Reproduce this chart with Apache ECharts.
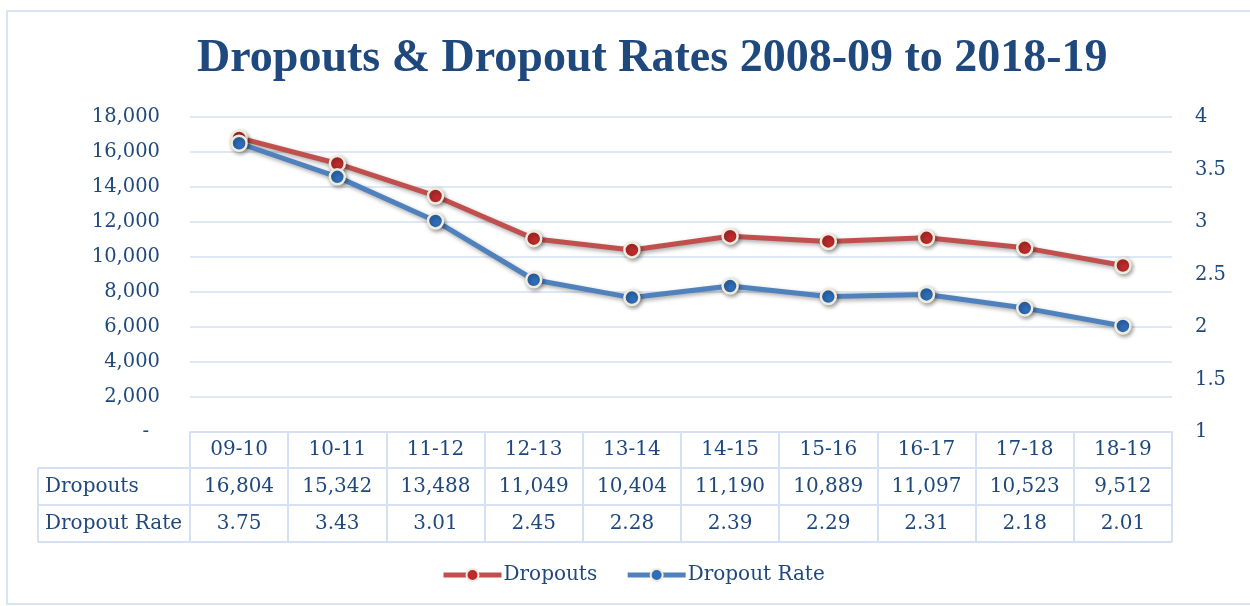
<!DOCTYPE html>
<html>
<head>
<meta charset="utf-8">
<script src="https://cdn.jsdelivr.net/npm/echarts@6/dist/echarts.min.js"></script>
<style>
  html, body { margin: 0; padding: 0; background: #fff; }
  #chart { width: 1250px; height: 606px; }
</style>
</head>
<body>
<div id="chart"></div>
<script>
// School years and the two measured series
const years = ['09-10', '10-11', '11-12', '12-13', '13-14', '14-15', '15-16', '16-17', '17-18', '18-19'];
const dropouts = [16804, 15342, 13488, 11049, 10404, 11190, 10889, 11097, 10523, 9512];
const dropoutRate = [3.75, 3.43, 3.01, 2.45, 2.28, 2.39, 2.29, 2.31, 2.18, 2.01];
const rowLabels = ['Dropouts', 'Dropout Rate'];

const TEXT = '#1F497D';
const RULE = '#D5E1F2';
const FONT = 'DejaVu Serif';

// plot frame and data-table geometry (px)
const G = { left: 190, right: 78, top: 117, bottom: 174 };
const tableLeft = 38;
const rowH = 37;
const axisY = 606 - G.bottom;           // bottom of plot = top of table
const headerBottom = axisY + 36;

const chart = echarts.init(document.getElementById('chart'), null, { renderer: 'canvas' });

const markerBorder = '#EFEBDD';
function lineSeries(name, data, lineColor, dotColor, yIndex) {
  return {
    name: name,
    type: 'line',
    yAxisIndex: yIndex,
    data: data,
    symbol: 'circle',
    symbolSize: 15,
    lineStyle: {
      color: lineColor, width: 5,
      shadowColor: 'rgba(0,0,0,0.35)', shadowBlur: 4, shadowOffsetX: 1.5, shadowOffsetY: 2
    },
    itemStyle: {
      color: dotColor, borderColor: markerBorder, borderWidth: 2.5,
      shadowColor: 'rgba(0,0,0,0.35)', shadowBlur: 4, shadowOffsetX: 1.5, shadowOffsetY: 2
    },
    emphasis: { disabled: true }
  };
}

chart.setOption({
  animation: false,
  backgroundColor: '#fff',
  title: {
    text: 'Dropouts & Dropout Rates 2008-09 to 2018-19',
    left: 192,
    top: 31,
    textStyle: { fontFamily: 'Liberation Serif', fontWeight: 'bold', fontSize: 46, color: TEXT }
  },
  legend: {
    bottom: 16,
    left: 436,
    itemWidth: 58,
    itemHeight: 15,
    itemGap: 28,
    lineStyle: { width: 5 },
    textStyle: { fontFamily: FONT, fontSize: 20, color: TEXT, padding: [0, 0, 0, -3] }
  },
  grid: { left: G.left, right: G.right, top: G.top, bottom: G.bottom, containLabel: false },
  xAxis: {
    type: 'category',
    data: years,
    boundaryGap: true,
    axisLine: { show: true, lineStyle: { color: RULE, width: 2 } },
    axisTick: { show: true, length: 36 + rowH * 2, lineStyle: { color: RULE, width: 2 } },
    axisLabel: { margin: 8, fontFamily: FONT, fontSize: 20, color: TEXT }
  },
  yAxis: [
    {
      type: 'value', min: 0, max: 18000, interval: 2000,
      axisLine: { show: false }, axisTick: { show: false },
      splitLine: { lineStyle: { color: RULE, width: 1.5 } },
      axisLabel: {
        margin: 30, fontFamily: FONT, fontSize: 19.5, color: TEXT,
        formatter: v => v === 0 ? '{dash|-}' : v.toLocaleString('en-US'),
        rich: { dash: { fontFamily: FONT, fontSize: 19.5, color: TEXT, padding: [0, 11, 0, 0] } }
      }
    },
    {
      type: 'value', min: 1, max: 4, interval: 0.5,
      axisLine: { show: false }, axisTick: { show: false },
      splitLine: { show: false },
      axisLabel: { margin: 23, fontFamily: FONT, fontSize: 19.5, color: TEXT, formatter: v => String(v) }
    }
  ],
  series: [
    lineSeries('Dropouts', dropouts, '#C0504D', '#BD2B2B', 0),
    lineSeries('Dropout Rate', dropoutRate, '#4F81BD', '#2E6DB8', 1)
  ]
});

// Data table beneath the plot: row rules, row labels and cell values
const rightX = 1250 - G.right;
const els = [];
const lineStyle = { stroke: RULE, lineWidth: 2 };
[headerBottom, headerBottom + rowH, headerBottom + rowH * 2].forEach(y => {
  els.push({ type: 'line', shape: { x1: tableLeft, y1: y, x2: rightX, y2: y }, style: lineStyle, silent: true });
});
els.push({ type: 'line', shape: { x1: tableLeft, y1: headerBottom, x2: tableLeft, y2: headerBottom + rowH * 2 }, style: lineStyle, silent: true });

const rows = [
  dropouts.map(v => v.toLocaleString('en-US')),
  dropoutRate.map(v => v.toFixed(2))
];
rows.forEach((vals, r) => {
  const cy = headerBottom + rowH * r + rowH / 2;
  els.push({
    type: 'text', x: tableLeft + 7, y: cy, silent: true,
    style: { text: rowLabels[r], fontFamily: FONT, fontSize: 20, fill: TEXT, textAlign: 'left', textVerticalAlign: 'middle' }
  });
  vals.forEach((t, i) => {
    const x = chart.convertToPixel({ xAxisIndex: 0 }, i);
    els.push({
      type: 'text', x: x, y: cy, silent: true,
      style: { text: t, fontFamily: FONT, fontSize: 20, fill: TEXT, textAlign: 'center', textVerticalAlign: 'middle' }
    });
  });
});

// outer chart frame
els.push({ type: 'rect', shape: { x: 7, y: 11, width: 1260, height: 593 }, style: { fill: null, stroke: '#D9E4F2', lineWidth: 2 }, silent: true, z: -1 });

chart.setOption({ graphic: els });
</script>
</body>
</html>
